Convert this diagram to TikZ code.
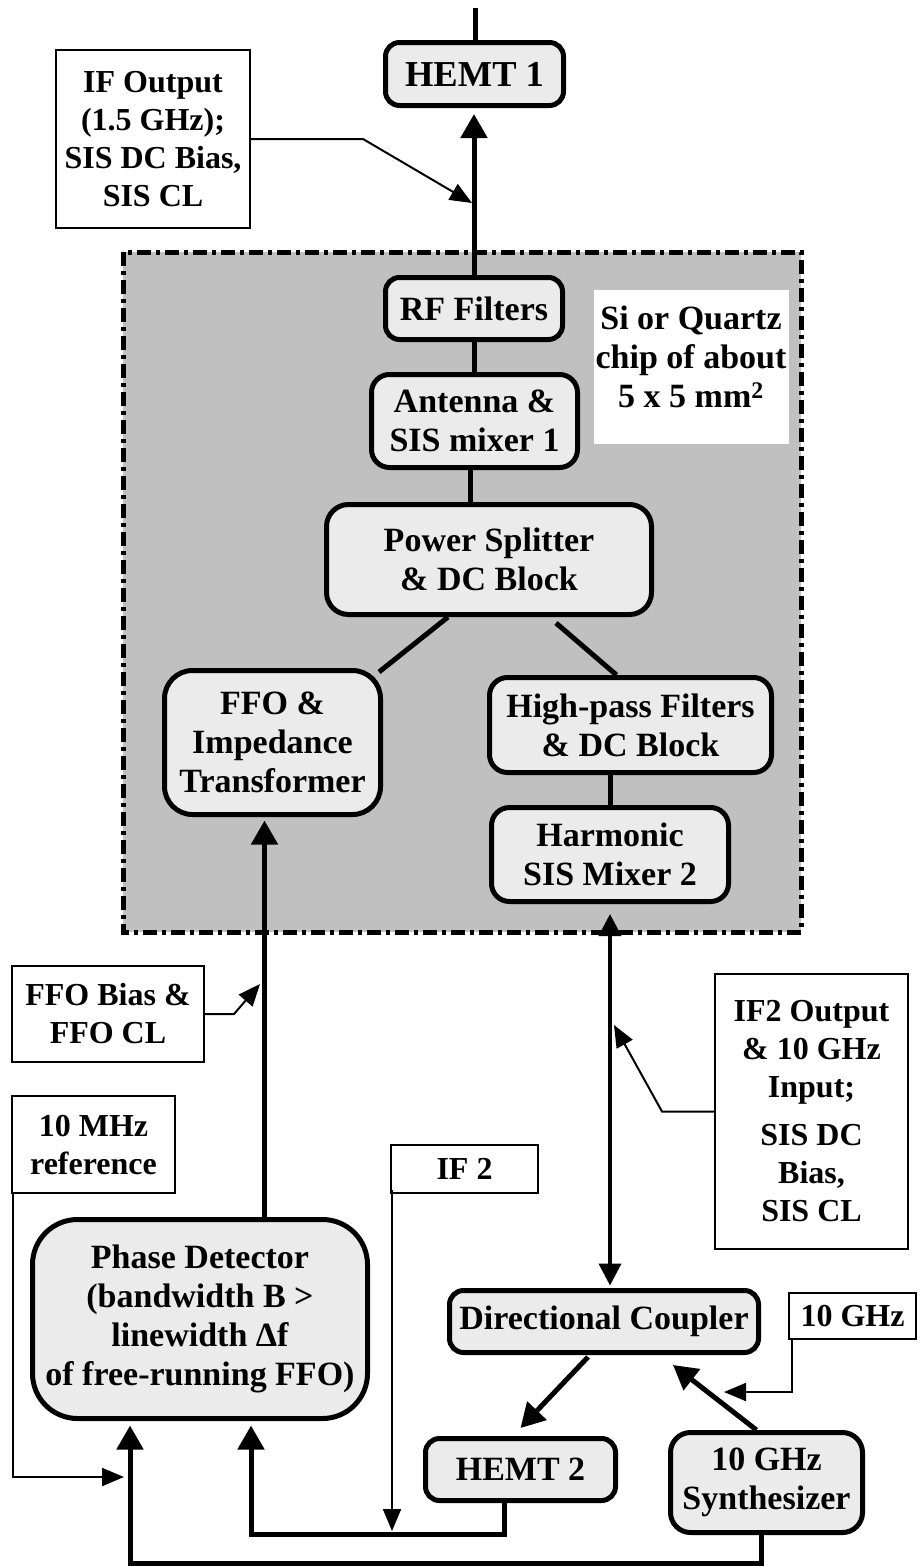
\documentclass[tikz,border=0pt]{standalone}
\usepackage{fontspec}
\setmainfont{Liberation Serif}
\usetikzlibrary{arrows.meta,calc}
\definecolor{boxfill}{HTML}{EBEBEB}
\definecolor{chipgray}{HTML}{C0C0C0}
\newcommand{\blkfont}{\fontsize{34}{39}\selectfont\bfseries}
\newcommand{\bigblkfont}{\fontsize{36.5}{40}\selectfont\bfseries}
\newcommand{\lblfont}{\fontsize{32}{38}\selectfont\bfseries}
\begin{document}
\begin{tikzpicture}[x=1pt,y=-1pt,
  blk/.style={draw, line width=5pt, fill=boxfill, rounded corners=14pt, align=center, inner sep=0pt, font=\blkfont},
  lbl/.style={draw, line width=2pt, fill=white, align=center, inner sep=0pt, font=\lblfont},
  conn/.style={line width=5pt},
  vconn/.style={line width=4pt},
  lead/.style={line width=2pt},
  tip/.style={-{Triangle[length=24pt,width=26pt]}},
  ltip/.style={-{Triangle[length=22pt,width=18pt]}}
]
\useasboundingbox (0,0) rectangle (919,1566);

% chip region
\draw[line width=5pt, fill=chipgray, dash pattern=on 14pt off 5pt on 4pt off 5pt] (123,252) rectangle (801,932);
\node[fill=white, minimum width=195pt, minimum height=154pt, inner sep=0pt] (chipbox) at (691.5,367) {};
\node[font=\blkfont, align=center, anchor=north, inner sep=0pt] (chip) at (691,306) {Si or Quartz\\chip of about\\5 x 5 mm\textsuperscript{2}};

% blocks
\node[blk, font=\bigblkfont, minimum width=178pt, minimum height=63pt] (hemt1) at (474.5,74) {HEMT 1};
\node[blk, minimum width=177pt, minimum height=62pt] (rf) at (474,308.5) {RF Filters};
\node[blk, minimum width=206pt, minimum height=93pt, rounded corners=18pt] (ant) at (474.5,421) {Antenna \&\\SIS mixer 1};
\node[blk, minimum width=325pt, minimum height=110pt, rounded corners=22pt] (ps) at (489,559.5) {Power Splitter\\\& DC Block};
\node[blk, minimum width=216pt, minimum height=144pt, rounded corners=28pt] (ffo) at (272.5,742.5) {FFO \&\\Impedance\\Transformer};
\node[blk, minimum width=282pt, minimum height=95pt, rounded corners=18pt] (hpf) at (630.5,725) {High-pass Filters\\\& DC Block};
\node[blk, minimum width=237pt, minimum height=94pt, rounded corners=18pt] (har) at (610,854.5) {Harmonic\\SIS Mixer 2};
\node[blk, minimum width=335pt, minimum height=199pt, rounded corners=45pt] (pd) at (200,1319) {Phase Detector\\(bandwidth B >\\linewidth Δf\\of free-running FFO)};
\node[blk, minimum width=309pt, minimum height=62pt] (dc) at (604,1321.5) {Directional Coupler};
\node[blk, minimum width=190pt, minimum height=62pt] (hemt2) at (520.5,1469.5) {HEMT 2};
\node[blk, minimum width=192pt, minimum height=100pt, rounded corners=20pt] (syn) at (766.5,1482.5) {10 GHz\\Synthesizer};

% labels
\node[lbl, minimum width=194pt, minimum height=178pt] (ifo) at (153,139) {IF Output\\(1.5 GHz);\\SIS DC Bias,\\SIS CL};
\node[lbl, minimum width=192pt, minimum height=96pt] (fb) at (108,1014) {FFO Bias \&\\FFO CL};
\node[lbl, minimum width=163pt, minimum height=97pt] (mhz) at (93.5,1144.5) {10 MHz\\reference};
\node[lbl, minimum width=147pt, minimum height=48pt] (if2) at (464.5,1169) {IF 2};
\node[lbl, minimum width=193pt, minimum height=275pt] (if2o) at (811.5,1111.5) {IF2 Output\\\& 10 GHz\\Input;\\[10pt]SIS DC\\Bias,\\SIS CL};
\node[lbl, minimum width=127pt, minimum height=46pt] (ghz) at (852.5,1316) {10 GHz};

% coordinates
\coordinate (topend) at (475,8);
\coordinate (ifotip) at (472,203);
\coordinate (a1) at ($(ant.south)+(-4,0)$);
\coordinate (f1) at ($(ffo.south)+(-8,0)$);
\coordinate (fbtip) at (260,984);
\coordinate (m1) at ($(mhz.south west)+(2,0)$);
\coordinate (mhztip) at (124,1477);
\coordinate (i1) at ($(if2.south west)+(2,-4)$);
\coordinate (i2tip) at (393,1531);
\coordinate (o2tip) at (614,1025);
\coordinate (g1) at ($(ghz.south west)+(4,0)$);
\coordinate (ghztip) at (724,1392);
\coordinate (h2) at ($(hemt2.south)+(-16,0)$);
\coordinate (busA) at (251,1534);
\coordinate (s2) at ($(syn.south)+(-5.5,0)$);
\coordinate (busB) at (130,1563);

% connectors
\draw[conn] (topend) -- (topend |- hemt1.north);
\draw[conn, tip, shorten >=6pt] (rf.north) -- (rf.north |- hemt1.south);
\draw[lead, ltip] (ifo.east) -- ++(112,0) -- (ifotip);
\draw[conn] (rf.south) -- (rf.south |- ant.north);
\draw[conn] (a1) -- (a1 |- ps.north);
\draw[conn] ($(ps.south)+(-41,0)$) -- ($(ffo.north east)+(-4,4)$);
\draw[conn] ($(ps.south)+(67,6)$) -- ($(hpf.north)+(-14,0)$);
\draw[conn] (har.north |- hpf.south) -- (har.north);
\draw[vconn, {Triangle[length=22pt,width=22pt]}-{Triangle[length=22pt,width=22pt]}, shorten <=10pt, shorten >=2.5pt] (har.south) -- (har.south |- dc.north);
\draw[conn, tip, shorten >=3.5pt] (f1 |- pd.north) -- (f1);
\draw[lead, ltip] (fb.east) -- ++(29,0) -- (fbtip);
\draw[lead, ltip] (m1) -- (m1 |- mhztip) -- (mhztip);
\draw[lead, ltip] (i1) -- (i1 |- i2tip);
\draw[lead, ltip] (if2o.west) -- ++(-52,0) -- (o2tip);
\draw[conn, tip] ($(dc.south)+(-16,2)$) -- ($(hemt2.north)+(0,-8)$);
\draw[conn, tip] ($(syn.north)+(-10,0)$) -- ($(dc.south)+(69,10)$);
\draw[lead, ltip] (g1) -- (g1 |- ghztip) -- (ghztip);
\draw[conn, tip, shorten >=4.5pt] (h2) -- (h2 |- busA) -- (busA) -- (busA |- pd.south);
\draw[conn, tip, shorten >=4.5pt] (s2) -- (s2 |- busB) -- (busB) -- (busB |- pd.south);
\end{tikzpicture}
\end{document}
